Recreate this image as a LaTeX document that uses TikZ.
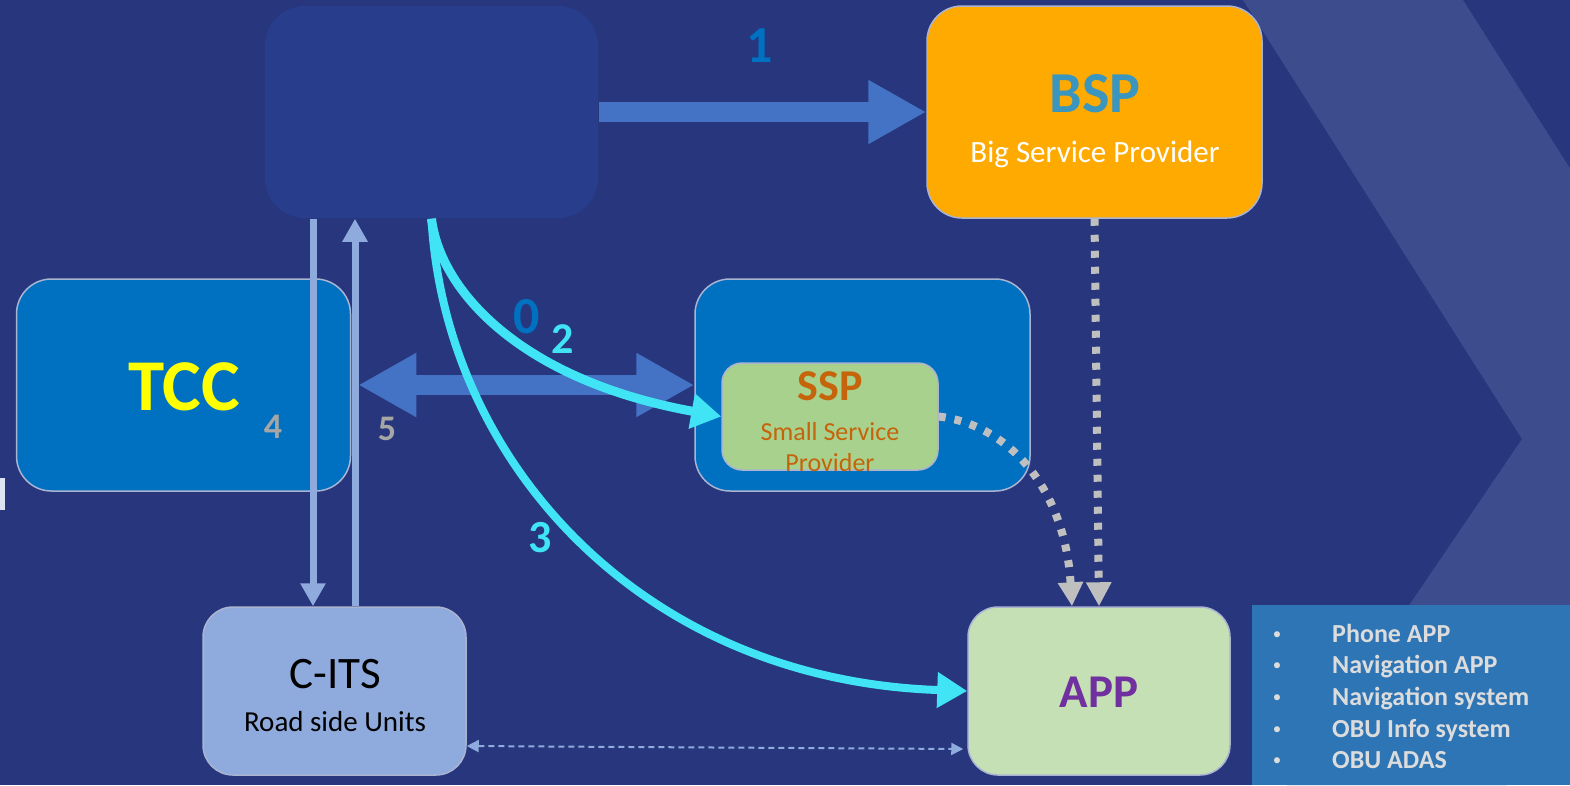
\documentclass[tikz,border=0pt]{standalone}
\usepackage{fontspec}
\setmainfont{Carlito}
\usetikzlibrary{arrows.meta}

\definecolor{bg}{RGB}{39,54,125}
\definecolor{chev}{RGB}{60,76,141}
\definecolor{topfill}{RGB}{40,62,140}
\definecolor{bspfill}{RGB}{255,170,0}
\definecolor{tccfill}{RGB}{0,112,192}
\definecolor{sspfill}{RGB}{169,209,142}
\definecolor{citsfill}{RGB}{143,170,220}
\definecolor{appfill}{RGB}{197,224,180}
\definecolor{listfill}{RGB}{46,117,182}
\definecolor{edge}{RGB}{170,180,210}
\definecolor{arrowblue}{RGB}{68,114,196}
\definecolor{linkblue}{RGB}{143,170,220}
\definecolor{flowcyan}{RGB}{64,228,245}
\definecolor{dotgray}{RGB}{191,191,191}
\definecolor{labelblue}{RGB}{0,112,192}
\definecolor{numgray}{RGB}{166,166,166}
\definecolor{tccyellow}{RGB}{255,255,0}
\definecolor{bsptext}{RGB}{58,150,190}
\definecolor{ssptext}{RGB}{197,100,10}
\definecolor{apptext}{RGB}{112,48,160}
\definecolor{listtext}{RGB}{220,220,220}
\definecolor{marklight}{RGB}{220,227,242}

\newcommand\fsz[1]{\fontsize{#1}{#1}\selectfont}

\tikzset{bighead/.tip={Triangle[length=58pt,width=60pt]}}

\begin{document}
\begin{tikzpicture}[x=1pt,y=-1pt,
  box/.style={rectangle, draw=edge, line width=1.5pt, rounded corners=35pt, inner sep=0pt},
  lbl/.style={anchor=base, inner sep=0pt},
  bigarrow/.style={draw=arrowblue, line width=20pt},
  vlink/.style={draw=linkblue, line width=7pt, -{Triangle[length=23pt,width=24pt]}},
  flow/.style={draw=flowcyan, -{Triangle[length=30pt,width=34pt]}},
  dotlink/.style={draw=dotgray, line width=8pt, dash pattern=on 7pt off 9pt,
    -{Triangle[length=24pt,width=24pt]}},
  thinlink/.style={draw=linkblue, line width=2pt, dash pattern=on 6pt off 4pt,
    {Triangle[length=12pt,width=12pt]}-{Triangle[length=12pt,width=12pt]}},
  listitem/.style={anchor=base west, inner sep=0pt, text=listtext, font=\fsz{26}\bfseries},
  bullet/.style={anchor=base, inner sep=0pt, text=listtext, font=\fsz{17}}
]
\useasboundingbox (0,0) rectangle (1570,785);

% background and chevron band
\fill[bg] (0,0) rectangle (1570,785);
\begin{scope}
  \clip (0,0) rectangle (1570,785);
  \fill[chev] (1243,0) -- (1463,0) -- (1742,439) -- (1507,785) -- (1287,785) -- (1522,439) -- cycle;
\end{scope}
\fill[marklight] (0,478) rectangle (5,510);

% boxes
\node[box, draw=none, fill=topfill, rounded corners=40pt, minimum width=333pt, minimum height=212pt] (top) at (431.5,112) {};
\node[box, fill=bspfill, minimum width=335pt, minimum height=212pt] (bsp) at (1094.5,112) {};
\node[box, fill=tccfill, minimum width=334pt, minimum height=212pt] (tcc) at (183.5,385) {};
\node[box, fill=tccfill, minimum width=335pt, minimum height=212pt] (tcc2) at (862.5,385) {};
\node[lbl, text=tccyellow, font=\fsz{73}\bfseries] (tcc2lbl) at (860,412) {TCC};
\node[box, fill=sspfill, rounded corners=20pt, minimum width=216pt, minimum height=107pt] (ssp) at (830,416.5) {};
\node[box, fill=citsfill, rounded corners=30pt, minimum width=263pt, minimum height=168pt] (cits) at (334.5,691) {};
\node[box, fill=appfill, rounded corners=30pt, minimum width=262pt, minimum height=168pt] (app) at (1099,691) {};
\node[rectangle, fill=listfill, inner sep=0pt, minimum width=318pt, minimum height=180pt] (list) at (1411,695) {};

% box texts
\node[lbl, text=bsptext, font=\fsz{58}\bfseries] (bsplbl) at (1095,112) {BSP};
\node[lbl, text=white, font=\fsz{31}] (bspsub) at (1095,162) {Big Service Provider};
\node[lbl, text=tccyellow, font=\fsz{73}\bfseries] (tcclbl) at (184,410) {TCC};
\node[lbl, text=ssptext, font=\fsz{44}\bfseries] (ssplbl) at (830,400) {SSP};
\node[lbl, text=ssptext, font=\fsz{26}] (sspsub1) at (830,440) {Small Service};
\node[lbl, text=ssptext, font=\fsz{26}] (sspsub2) at (830,471) {Provider};
\node[lbl, text=black, font=\fsz{45}] (citslbl) at (335,688) {C-ITS};
\node[lbl, text=black, font=\fsz{29}] (citssub) at (335,731) {Road side Units};
\node[lbl, text=apptext, font=\fsz{47}\bfseries] (applbl) at (1099,707) {APP};

% list of application types
\foreach \y/\t [count=\i] in {642/Phone APP, 673/Navigation APP, 705/Navigation system, 737/OBU Info system, 768/OBU ADAS}{
  \node[bullet] (b\i) at (1277,\y-3) {•};
  \node[listitem] (item\i) at (1332,\y) {\t};
}

% connectors
\draw[bigarrow, -bighead] (top.east) -- (bsp.west);
\draw[bigarrow, bighead-bighead] ([xshift=7pt]tcc.east) -- (tcc2.west);
\draw[vlink] ([xshift=-118.5pt]top.south) -- ([xshift=-21.5pt]cits.north);
\draw[vlink] ([xshift=20.5pt]cits.north) -- ([xshift=-76.5pt]top.south);
\draw[flow, line width=9pt] (top.south) .. controls (440,290) and (520,380) .. (ssp.west);
\draw[flow, line width=8pt] (top.south) .. controls (445,460) and (640,680) .. (app.west);
\draw[dotlink] (bsp.south) -- (app.north);
\draw[dotlink] (ssp.east) .. controls (1010,425) and (1065,490) .. ([xshift=-27pt]app.north);
\draw[thinlink] ([yshift=-55pt]cits.east) -- ([xshift=-4pt,yshift=-58pt]app.west);

% step numbers
\node[lbl, text=labelblue, font=\fsz{52}\bfseries] (n1) at (760,62) {1};
\node[lbl, text=labelblue, font=\fsz{52}\bfseries] (n0) at (527,333) {0};
\node[lbl, text=flowcyan, font=\fsz{44}\bfseries] (n2) at (563,353) {2};
\node[lbl, text=flowcyan, font=\fsz{46}\bfseries] (n3) at (540,552) {3};
\node[lbl, text=numgray, font=\fsz{36}\bfseries] (n4) at (273,438) {4};
\node[lbl, text=numgray, font=\fsz{36}\bfseries] (n5) at (387,440) {5};
\end{tikzpicture}
\end{document}
